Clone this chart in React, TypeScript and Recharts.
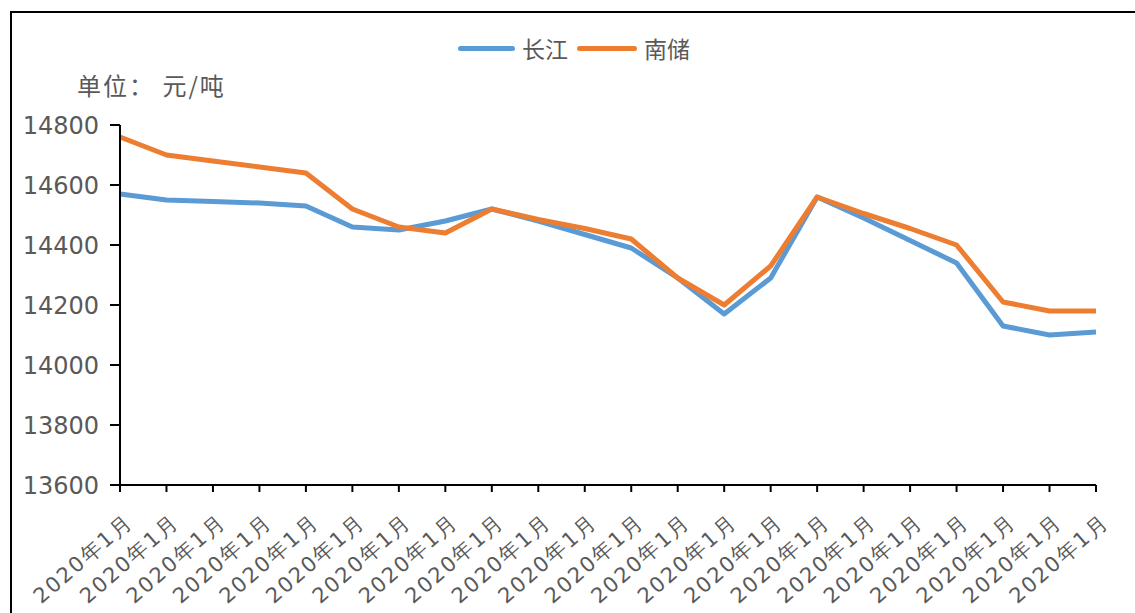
import { LineChart, Line, XAxis, YAxis } from "recharts"

const months = [
    "2020年1月", "2020年1月", "2020年1月", "2020年1月", "2020年1月", "2020年1月",
    "2020年1月", "2020年1月", "2020年1月", "2020年1月", "2020年1月", "2020年1月",
    "2020年1月", "2020年1月", "2020年1月", "2020年1月", "2020年1月", "2020年1月",
    "2020年1月", "2020年1月", "2020年1月", "2020年1月",
]
const changjiang = [
    14570, 14550, 14545, 14540, 14530, 14460, 14450, 14480, 14520, 14480, 14435,
    14390, 14290, 14170, 14290, 14560, 14490, 14415, 14340, 14130, 14100, 14110,
]
const nanchu = [
    14760, 14700, 14680, 14660, 14640, 14520, 14460, 14440, 14520, 14485, 14455,
    14420, 14290, 14200, 14330, 14560, 14505, 14455, 14400, 14210, 14180, 14180,
]
const yTicks = [13600, 13800, 14000, 14200, 14400, 14600, 14800]

const data = months.map((m, i) => ({ idx: i, month: m, cj: changjiang[i], nc: nanchu[i] }))

const BLUE = "#5B9BD5"
const ORANGE = "#ED7D31"
const GREY = "#595959"

// rotated category label, text ends just under the tick
const MonthTick = (props: any) => {
    const { x, y, payload } = props
    const tx = x + 14
    const ty = y + 30
    return (
        <text
            x={tx}
            y={ty}
            transform={`rotate(-41, ${tx}, ${ty})`}
            textAnchor="end"
            fontSize={21}
            letterSpacing={2}
            fontFamily="DejaVu Sans, sans-serif"
            fill={GREY}
        >
            {months[payload.value]}
        </text>
    )
}

export default function App() {
    return (
        <div style={{ position: "absolute", left: 0, top: 0, width: 1135, height: 613, background: "#fff", overflow: "hidden" }}>
            <div style={{ position: "absolute", left: 10, top: 11, width: 1140, height: 620, border: "2px solid #000", boxSizing: "border-box" }} />
            <div style={{ position: "absolute", left: 77, top: 70, fontSize: 24, letterSpacing: 2, color: GREY, fontFamily: "'Noto Sans CJK SC', sans-serif", lineHeight: "30px", whiteSpace: "pre" }}>
                单位： 元/吨
            </div>
            <div style={{ position: "absolute", left: 458, top: 33, display: "flex", alignItems: "center", fontSize: 23, color: GREY, fontFamily: "'Noto Sans CJK SC', sans-serif", lineHeight: "30px" }}>
                <span style={{ display: "inline-block", width: 57, height: 5, background: BLUE, borderRadius: 3, marginRight: 7 }} />
                <span>长江</span>
                <span style={{ display: "inline-block", width: 60, height: 5, background: ORANGE, borderRadius: 3, marginLeft: 9, marginRight: 7 }} />
                <span>南储</span>
            </div>
            <div style={{ position: "absolute", left: 0, top: 0 }}>
                <LineChart width={1135} height={613} data={data} margin={{ top: 125, right: 39, bottom: 0, left: 20 }}>
                    <XAxis
                        dataKey="idx"
                        type="number"
                        domain={[0, 21]}
                        ticks={data.map(d => d.idx)}
                        interval={0}
                        axisLine={{ stroke: "#000", strokeWidth: 2 }}
                        tickLine={{ stroke: "#000", strokeWidth: 2 }}
                        tickSize={7}
                        tick={<MonthTick />}
                        height={128}
                    />
                    <YAxis
                        domain={[13600, 14800]}
                        ticks={yTicks}
                        interval={0}
                        width={100}
                        axisLine={{ stroke: "#000", strokeWidth: 2 }}
                        tickLine={{ stroke: "#000", strokeWidth: 2 }}
                        tickSize={10}
                        tick={{ fontSize: 24, fill: GREY, fontFamily: "DejaVu Sans, sans-serif", dx: -9 }}
                    />
                    <Line dataKey="cj" stroke={BLUE} strokeWidth={5} dot={false} isAnimationActive={false} strokeLinejoin="round" />
                    <Line dataKey="nc" stroke={ORANGE} strokeWidth={5} dot={false} isAnimationActive={false} strokeLinejoin="round" />
                </LineChart>
            </div>
        </div>
    )
}
